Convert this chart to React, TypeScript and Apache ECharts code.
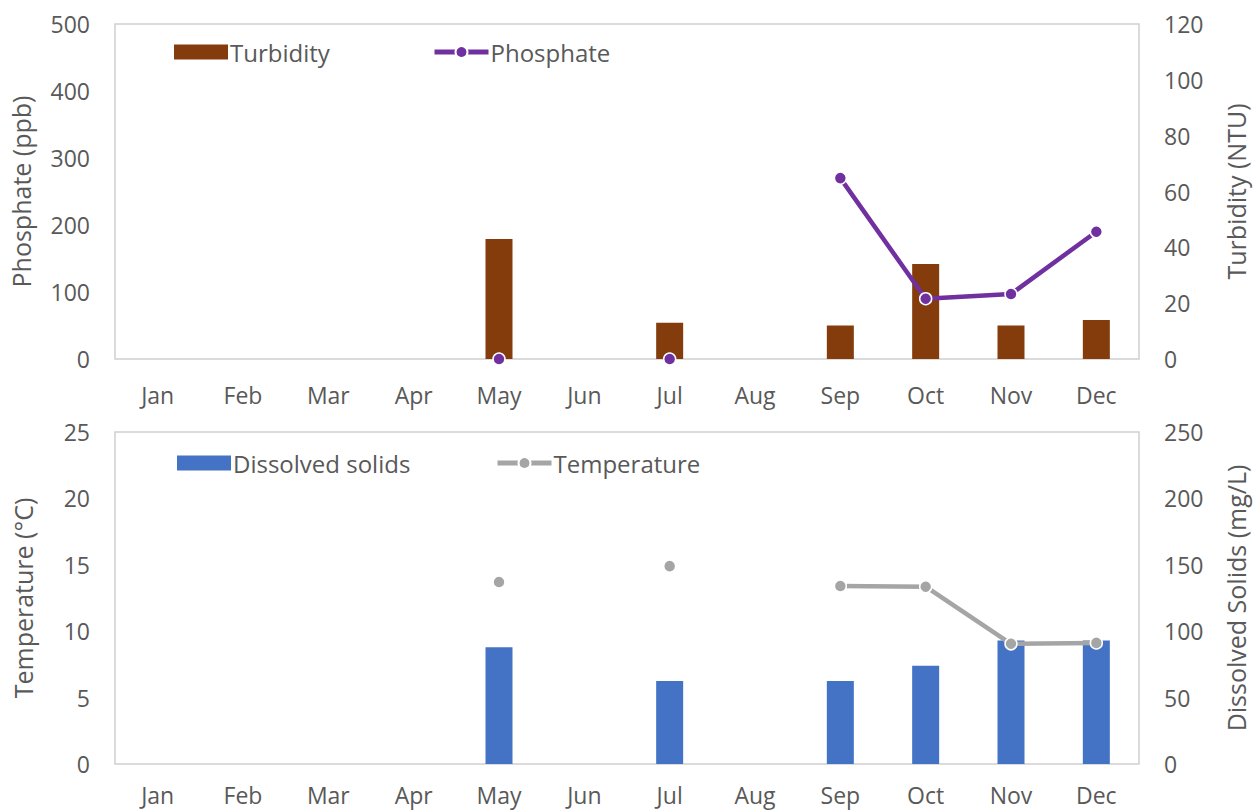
import React, { useEffect, useRef } from "react";
import * as echarts from "echarts";

const months = ["Jan", "Feb", "Mar", "Apr", "May", "Jun", "Jul", "Aug", "Sep", "Oct", "Nov", "Dec"];
const turbidity = [null, null, null, null, 43, null, 13, null, 12, 34, 12, 14];
const phosphate = [null, null, null, null, 0, null, 0, null, 270, 90, 97, 190];
const dissolvedSolids = [null, null, null, null, 88, null, 62.5, null, 62.5, 74, 93, 93];
const temperature = [null, null, null, null, 13.7, null, 14.9, null, 13.4, 13.35, 9.05, 9.12];

const FONT = "'Open Sans', 'Noto Sans', sans-serif";
const TXT = "#595959";
const FS = 23;

export default function App() {
  const ref = useRef<HTMLDivElement>(null);
  useEffect(() => {
    if (!ref.current) return;
    const chart = echarts.init(ref.current, null, { renderer: "svg" });
    const axisLabel = { color: TXT, fontSize: FS, fontFamily: FONT };
    const nameStyle = { color: TXT, fontSize: 25, fontFamily: FONT };
    const legendBase = {
      itemWidth: 54,
      itemHeight: 15,
      itemGap: 0,
      textStyle: { color: TXT, fontSize: 24, fontFamily: FONT, padding: [0, 0, 0, -3] },
      padding: 0,
      lineStyle: { width: 5 },
    };
    const catAxis = (gridIndex: number, margin: number) => ({
      type: "category",
      gridIndex,
      data: months,
      axisLine: { show: false },
      axisTick: { show: false },
      axisLabel: { ...axisLabel, margin },
    });
    const valAxis = (gridIndex: number, pos: string, max: number, interval: number, name: string, gap: number) => ({
      type: "value",
      gridIndex,
      position: pos,
      min: 0,
      max,
      interval,
      name,
      nameLocation: "middle",
      nameGap: gap,
      nameTextStyle: nameStyle,
      axisLine: { show: false },
      axisTick: { show: false },
      splitLine: { show: false },
      axisLabel: { ...axisLabel, margin: 25 },
    });
    chart.setOption({
      animation: false,
      textStyle: { fontFamily: FONT },
      grid: [
        { left: 113, top: 24, width: 1029, height: 335, show: true, borderColor: "#cfcfcf", borderWidth: 1.5 },
        { left: 115, top: 432, width: 1030, height: 332, show: true, borderColor: "#cfcfcf", borderWidth: 1.5 },
      ],
      legend: [
        { ...legendBase, left: 174, top: 40, data: [{ name: "Turbidity", icon: "rect" }] },
        { ...legendBase, left: 432, top: 40, data: ["Phosphate"] },
        { ...legendBase, left: 177, top: 451, data: [{ name: "Dissolved solids", icon: "rect" }] },
        { ...legendBase, left: 495, top: 451, data: ["Temperature"] },
      ],
      xAxis: [catAxis(0, 24), catAxis(1, 19)],
      yAxis: [
        valAxis(0, "left", 500, 100, "Phosphate (ppb)", 82),
        valAxis(0, "right", 120, 20, "Turbidity (NTU)", 84),
        valAxis(1, "left", 25, 5, "Temperature (°C)", 80),
        valAxis(1, "right", 250, 50, "Dissolved Solids (mg/L)", 84),
      ],
      series: [
        {
          name: "Turbidity",
          type: "bar",
          xAxisIndex: 0,
          yAxisIndex: 1,
          data: turbidity,
          barWidth: 27,
          itemStyle: { color: "#843C0C" },
        },
        {
          name: "Phosphate",
          type: "line",
          xAxisIndex: 0,
          yAxisIndex: 0,
          data: phosphate,
          connectNulls: false,
          symbol: "circle",
          symbolSize: 12,
          showAllSymbol: true,
          lineStyle: { color: "#7030A0", width: 4.5 },
          itemStyle: { color: "#7030A0", borderColor: "#ffffff", borderWidth: 1.5 },
        },
        {
          name: "Dissolved solids",
          type: "bar",
          xAxisIndex: 1,
          yAxisIndex: 3,
          data: dissolvedSolids,
          barWidth: 27,
          itemStyle: { color: "#4472C4" },
        },
        {
          name: "Temperature",
          type: "line",
          xAxisIndex: 1,
          yAxisIndex: 2,
          data: temperature,
          connectNulls: false,
          symbol: "circle",
          symbolSize: 12,
          showAllSymbol: true,
          lineStyle: { color: "#A5A5A5", width: 4.5 },
          itemStyle: { color: "#A5A5A5", borderColor: "#ffffff", borderWidth: 1.5 },
        },
      ],
    });
    return () => chart.dispose();
  }, []);
  return <div ref={ref} style={{ position: "fixed", left: 0, top: 0, width: 1256, height: 812, background: "#fff" }} />;
}
